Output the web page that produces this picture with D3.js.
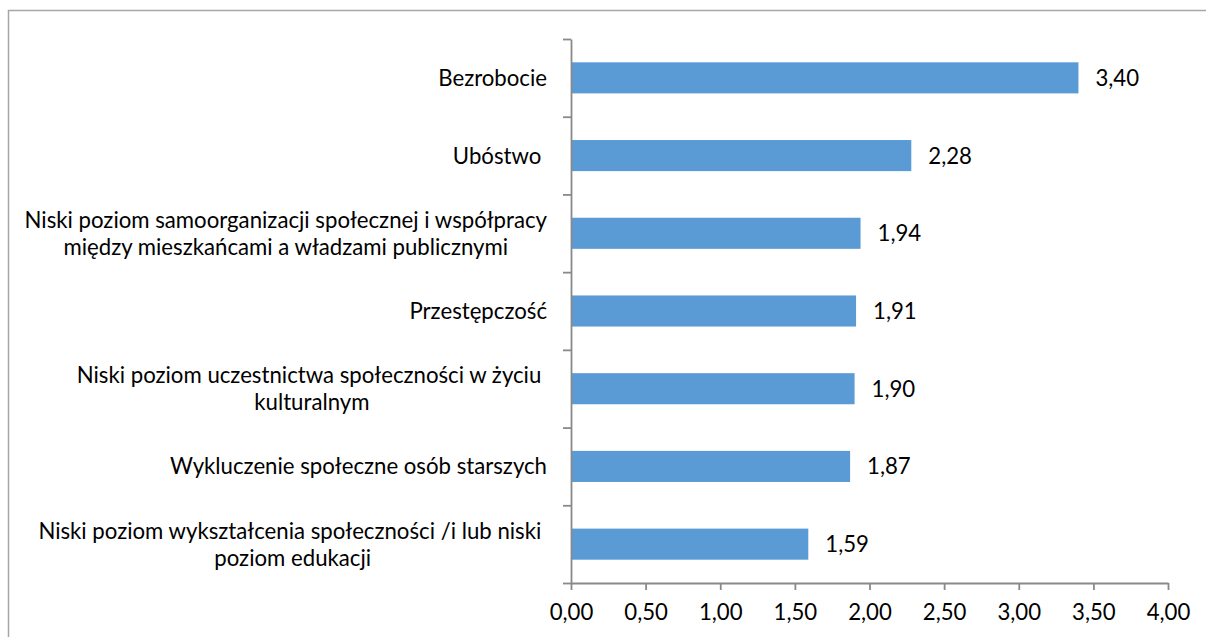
<!DOCTYPE html>
<html>
<head>
<meta charset="utf-8">
<script src="https://cdn.jsdelivr.net/npm/d3@7"></script>
<style>
    body { margin: 0; background: #fff; }
    svg text { font-family: Lato, "Open Sans", sans-serif; fill: #000; white-space: pre; }
</style>
</head>
<body>
<script>
const w = 1206; // width
const h = 637; // height

// categories, top to bottom (\n = line break in the label)
const categories = [
    "Bezrobocie",
    "Ubóstwo ",
    "Niski poziom samoorganizacji społecznej i współpracy\nmiędzy mieszkańcami a władzami publicznymi",
    "Przestępczość",
    "Niski poziom uczestnictwa społeczności w życiu \nkulturalnym",
    "Wykluczenie społeczne osób starszych",
    "Niski poziom wykształcenia społeczności /i lub niski \npoziom edukacji"
];
const values = [3.40, 2.28, 1.94, 1.91, 1.90, 1.87, 1.59];
const xTicks = [0, 0.5, 1, 1.5, 2, 2.5, 3, 3.5, 4];

const fs = 22.2; // font size
const axisColor = "#898989";
const barColor = "#5b9bd5";
const fmt = (v) => v.toFixed(2).replace(".", ",");

let svg = d3.select("body")
    .append("svg")
    .attr('width', w)
    .attr('height', h);

// chart frame (runs off the right / bottom edge)
svg.append("rect")
    .attr("x", 8.5)
    .attr("y", 10.5)
    .attr("width", w + 20)
    .attr("height", h + 20)
    .attr("fill", "none")
    .attr("stroke", "#a6a6a6")
    .attr("stroke-width", 1.5);

// scales
let x = d3.scaleLinear()
    .domain([0, 4])
    .range([571, 1168]);

let y = d3.scaleBand()
    .domain(categories)
    .range([39, 583])
    .paddingInner(0.6)
    .paddingOuter(0.3);

// category boundaries for the tick marks
let yEdge = d3.scaleLinear()
    .domain([0, categories.length])
    .range([39, 583]);

// bars
svg.selectAll('rect.bar')
    .data(values)
    .enter()
    .append('rect')
    .attr('class', 'bar')
    .attr('x', x(0))
    .attr('y', (d, i) => y(categories[i]))
    .attr('width', (d) => x(d) - x(0))
    .attr('height', y.bandwidth())
    .attr('fill', barColor);

// value labels
svg.selectAll('text.value')
    .data(values)
    .enter()
    .append('text')
    .attr('class', 'value')
    .attr('x', (d) => x(d) + 17)
    .attr('y', (d, i) => y(categories[i]) + y.bandwidth() / 2 + 0.36 * fs)
    .style('font-size', fs + 'px')
    .text(fmt);

// x axis
let axisX = d3.axisBottom(x)
    .tickValues(xTicks)
    .tickFormat(fmt)
    .tickSizeInner(7)
    .tickSizeOuter(0)
    .tickPadding(14);
let gX = svg.append("g")
    .attr('transform', `translate(0,${yEdge(categories.length)})`)
    .call(axisX);
gX.selectAll("text").style("font-size", fs + "px").attr("fill", "#000");

// y axis
let axisY = d3.axisLeft(yEdge)
    .tickValues(d3.range(categories.length + 1))
    .tickFormat("")
    .tickSizeInner(8)
    .tickSizeOuter(0);
let gY = svg.append("g")
    .attr('transform', `translate(${x(0)},0)`)
    .call(axisY);

svg.selectAll(".domain, .tick line")
    .attr("stroke", axisColor)
    .attr("stroke-width", 1.8);

// category labels: centred lines, block right-aligned next to the axis
const labelRight = 547;
const lineGap = 27;
categories.forEach((c, i) => {
    let lines = c.split("\n");
    let cy = y(c) + y.bandwidth() / 2;
    let g = svg.append("g");
    let texts = lines.map((t, j) => g.append("text")
        .attr("text-anchor", "middle")
        .attr("y", cy + (j - (lines.length - 1) / 2) * lineGap + 0.36 * fs)
        .style("font-size", fs + "px")
        .text(t));
    let maxW = d3.max(texts, (t) => t.node().getComputedTextLength());
    texts.forEach((t) => t.attr("x", labelRight - maxW / 2));
});
</script>
</body>
</html>
